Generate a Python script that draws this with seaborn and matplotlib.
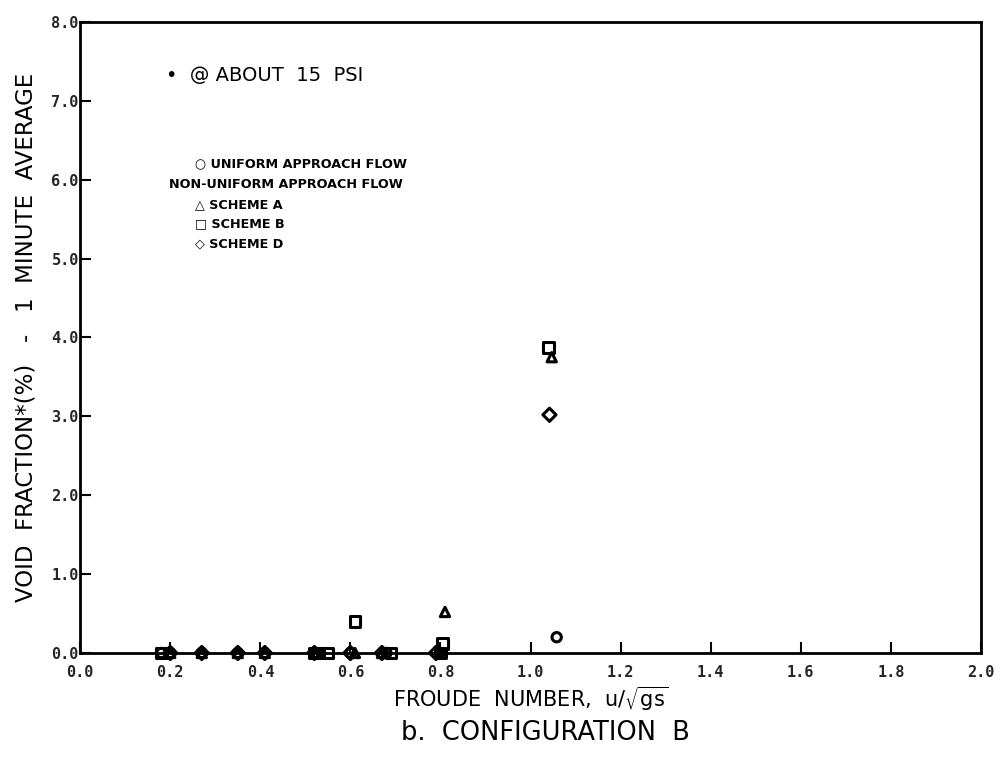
import matplotlib
matplotlib.use("Agg")
import matplotlib.pyplot as plt
import seaborn as sns
import pandas as pd

# Froude number and void fraction (%) for each approach-flow condition
uniform_x = [0.18, 0.20, 0.27, 0.35, 0.41, 0.52, 0.60, 0.68, 0.80, 1.058]
uniform_y = [0.0, 0.0, 0.0, 0.0, 0.0, 0.0, 0.0, 0.0, 0.0, 0.2]

scheme_a_x = [0.20, 0.27, 0.35, 0.41, 0.52, 0.61, 0.67, 0.80, 0.81, 1.047]
scheme_a_y = [0.0, 0.0, 0.0, 0.0, 0.0, 0.0, 0.0, 0.0, 0.52, 3.75]

scheme_b_x = [0.18, 0.52, 0.53, 0.55, 0.61, 0.69, 0.80, 0.805, 1.04]
scheme_b_y = [0.0, 0.0, 0.0, 0.0, 0.40, 0.0, 0.0, 0.12, 3.87]

scheme_d_x = [0.20, 0.27, 0.35, 0.41, 0.52, 0.60, 0.67, 0.79, 1.042]
scheme_d_y = [0.0, 0.0, 0.0, 0.0, 0.0, 0.0, 0.0, 0.0, 3.02]

x_ticks = [0.0, 0.2, 0.4, 0.6, 0.8, 1.0, 1.2, 1.4, 1.6, 1.8, 2.0]
y_ticks = [0.0, 1.0, 2.0, 3.0, 4.0, 5.0, 6.0, 7.0, 8.0]

series = [
    ("UNIFORM", uniform_x, uniform_y, "o", 45),
    ("SCHEME A", scheme_a_x, scheme_a_y, "^", 45),
    ("SCHEME B", scheme_b_x, scheme_b_y, "s", 60),
    ("SCHEME D", scheme_d_x, scheme_d_y, "D", 45),
]

sns.set_theme(style="ticks")
plt.rcParams["font.family"] = ["DejaVu Sans"]

fig = plt.figure(figsize=(10.02, 7.57), dpi=100)
ax = fig.add_axes([0.080, 0.1374, 0.899, 0.8336])

for name, xs, ys, mk, size in series:
    df = pd.DataFrame({"froude": xs, "void": ys})
    sns.scatterplot(data=df, x="froude", y="void", marker=mk, s=size,
                    facecolors="none", edgecolors="black", linewidth=2.2,
                    ax=ax, legend=False, zorder=3, clip_on=False)

ax.set_xlim(0.0, 2.0)
ax.set_ylim(0.0, 8.0)
ax.set_xticks(x_ticks)
ax.set_yticks(y_ticks)
ax.set_xticklabels([f"{v:.1f}" for v in x_ticks])
ax.set_yticklabels([f"{v:.1f}" for v in y_ticks])
for lab in ax.get_xticklabels() + ax.get_yticklabels():
    lab.set_fontfamily("DejaVu Sans Mono")
    lab.set_fontweight("bold")
    lab.set_fontsize(11)
ax.tick_params(axis="both", direction="in", length=8, width=1.5, color="black")
ax.tick_params(axis="x", pad=9)
ax.tick_params(axis="y", pad=1)
for sp in ax.spines.values():
    sp.set_visible(True)
    sp.set_linewidth(2.0)
    sp.set_color("black")

ax.set_xlabel(r"FROUDE  NUMBER,  u/$\sqrt{\mathrm{gs}}$", fontsize=15, labelpad=3)
ax.set_ylabel("VOID  FRACTION*(%)   -   1  MINUTE  AVERAGE", fontsize=16.5,
              labelpad=10)
ax.xaxis.label.set_color("black")
ax.yaxis.label.set_color("black")

fig.text(0.544, 0.032, "b.  CONFIGURATION  B", ha="center", va="center",
         fontsize=18.5, color="black")

# Footnote and key drawn as text in axes coordinates
ax.text(0.095, 0.915, "•  @ ABOUT  15  PSI", transform=ax.transAxes,
        fontsize=14, ha="left", va="center", color="black")
key_lines = [
    (0.128, 0.775, "○ UNIFORM APPROACH FLOW"),
    (0.099, 0.742, "NON-UNIFORM APPROACH FLOW"),
    (0.128, 0.710, "△ SCHEME A"),
    (0.128, 0.680, "□ SCHEME B"),
    (0.128, 0.649, "◇ SCHEME D"),
]
for kx, ky, txt in key_lines:
    ax.text(kx, ky, txt, transform=ax.transAxes, fontsize=9.2,
            fontweight="bold", ha="left", va="center", color="black")

fig.savefig("out.png", dpi=100, facecolor="white")
